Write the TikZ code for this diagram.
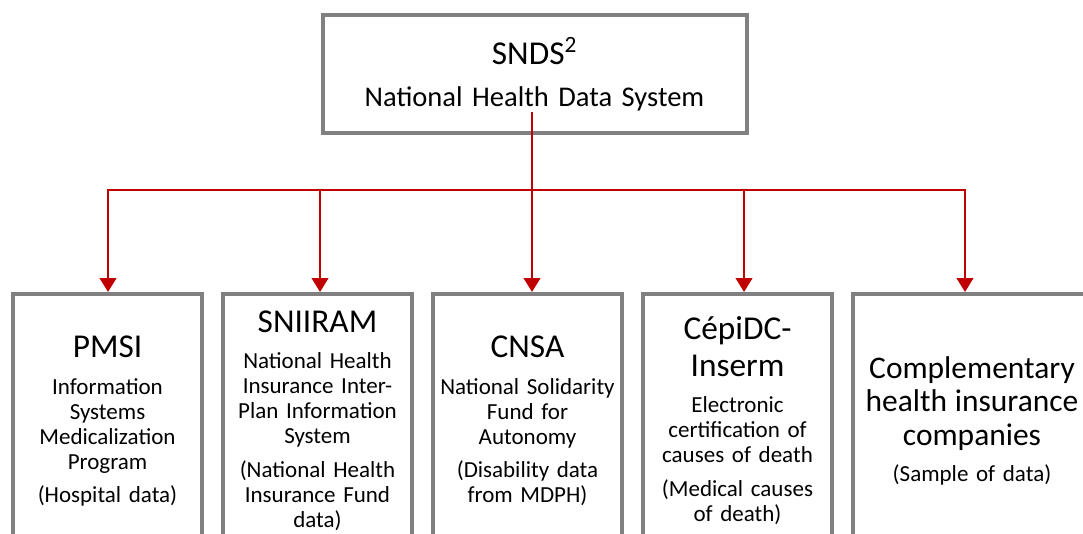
\documentclass[tikz,border=0pt]{standalone}
\usepackage{fontspec}
\setmainfont{Carlito}
\usepackage{xcolor}
\usepackage{tikz}
\usetikzlibrary{arrows.meta,positioning}
\definecolor{boxc}{HTML}{808080}
\definecolor{linkc}{HTML}{C00000}
\newcommand{\hd}{\fontsize{25}{25}\selectfont}
\newcommand{\hdsm}{\fontsize{23.6}{25}\selectfont}
\newcommand{\bodyf}{\fontsize{17.25}{18.75}\selectfont\lineskiplimit=-50pt}
\tikzset{
  ar/.style={-{Triangle[width=12.5pt,length=10.5pt]},line width=1.5pt,linkc},
  link/.style={line width=1.5pt,linkc},
  box/.style={draw=boxc,line width=3pt,fill=white,align=center,inner sep=1pt,anchor=north,
    text width=138pt,minimum width=141.75pt,minimum height=190.5pt,font=\bodyf},
  topbox/.style={draw=boxc,line width=3pt,fill=white,align=center,inner sep=1pt,
    text width=310pt,minimum width=318pt,minimum height=88.5pt,
    font={\fontsize{21.4}{26}\selectfont\lineskiplimit=-50pt}}
}

\begin{document}
\begin{tikzpicture}[x=0.75pt,y=-0.75pt]
\path[use as bounding box,clip] (0,0) rectangle (1083,533);
\node[topbox] (snds) at (534.5,74) {{\hd SNDS\textsuperscript{2}}\\[5.5pt]National Health Data System};
\node[box] (pmsi) at (107.5,292) {{\hd PMSI}\\[9pt]Information\\Systems\\Medicalization\\Program\\[6pt](Hospital data)};
\node[box] (sniiram) at (317.5,292) {{\hd SNIIRAM}\\[8.25pt]National Health\\Insurance Inter-\\Plan Information\\System\\[6.75pt](National Health\\Insurance Fund\\data)};
\node[box] (cnsa) at (527.5,292) {{\hd CNSA}\\[9pt]National Solidarity\\Fund for\\Autonomy\\[6pt](Disability data\\from MDPH)};
\node[box] (cepidc) at (737.5,292) {{\hd CépiDC-}\\[9pt]{\hd Inserm}\\[8.25pt]Electronic\\certification of\\causes of death\\[6.75pt](Medical causes\\of death)};
\node[box,text width=170pt,minimum width=178.5pt] (cmp) at (972,292) {{\hdsm Complementary}\\[6pt]{\hdsm health insurance}\\[6.75pt]{\hdsm companies}\\[8.25pt](Sample of data)};
\coordinate (stem) at (532,112);
\coordinate (hub) at (532,190);
\draw[link] (stem) -- (hub);
\foreach \n/\s in {pmsi/0.4pt,sniiram/1.9pt,cnsa/3.4pt,cepidc/4.9pt,cmp/-5.25pt}
  \draw[ar] (hub) -| ([xshift=\s]\n.north);
\end{tikzpicture}
\end{document}
